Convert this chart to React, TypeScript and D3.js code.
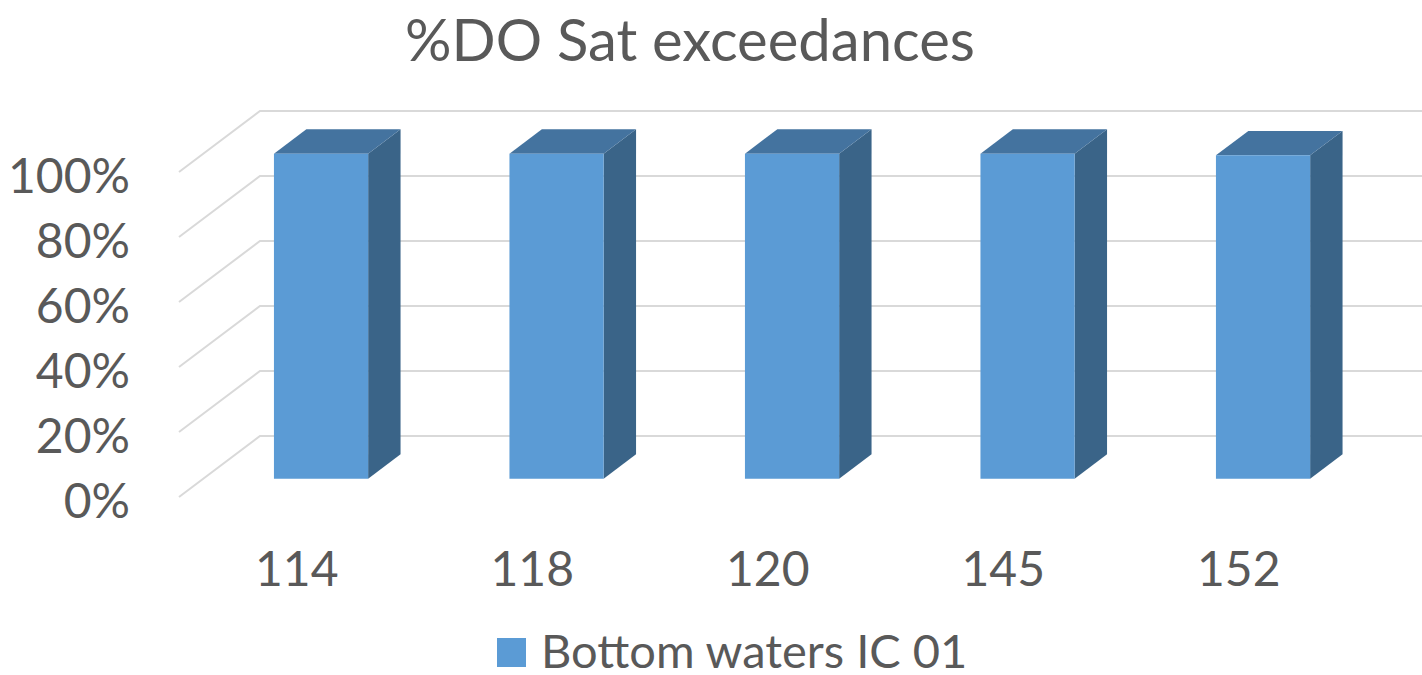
import React, { useEffect, useRef } from 'react';
import * as d3 from 'd3';

const categories = ['114', '118', '120', '145', '152'];
const values = [1, 1, 1, 1, 0.995];
const yTicks = [0, 0.2, 0.4, 0.6, 0.8, 1];
const title = '%DO Sat exceedances';
const seriesName = 'Bottom waters IC 01';

const W = 1422;
const H = 675;
const FONT = 'Lato, "Open Sans", sans-serif';
const TEXT = '#595959';

const App: React.FC = () => {
  const svgRef = useRef<SVGSVGElement>(null);

  useEffect(() => {
    if (!svgRef.current) return;
    const svg = d3.select(svgRef.current);
    svg.selectAll('*').remove();

    // floor: front-left corner and depth vector
    const x0 = 179;
    const y0 = 497;
    const depthX = 81;
    const depthY = -61;
    const floorWidth = 1177.5;
    const wallHeight = 325;

    const xScale = d3.scaleBand<string>().domain(categories).range([0, floorWidth]);
    const yScale = d3.scaleLinear().domain([0, 1]).range([0, wallHeight]);

    // projected point: x along floor, d depth fraction, v value
    const pt = (x: number, d: number, v: number): [number, number] => [
      x0 + x + d * depthX,
      y0 + d * depthY - yScale(v),
    ];

    // gridlines (side wall + back wall)
    const grid = svg.append('g');
    yTicks.forEach((t) => {
      const line = d3.line()([pt(0, 0, t), pt(0, 1, t), pt(floorWidth, 1, t)]);
      grid.append('path')
        .attr('d', line)
        .attr('fill', 'none')
        .attr('stroke', '#d9d9d9')
        .attr('stroke-width', 2);
    });

    // y labels
    svg.append('g').selectAll('text')
      .data(yTicks)
      .enter()
      .append('text')
      .attr('x', 130)
      .attr('y', (t) => pt(0, 0, t)[1] + 2)
      .attr('text-anchor', 'end')
      .attr('dominant-baseline', 'central')
      .attr('font-family', FONT)
      .attr('font-size', 48)
      .attr('fill', TEXT)
      .text((t) => d3.format('.0%')(t));

    // bars
    const barFrac = 0.4;
    const dFront = 0.3;
    const dBack = 0.7;
    const bars = svg.append('g');
    categories.forEach((c, i) => {
      const step = xScale.bandwidth();
      const bw = step * barFrac;
      const xl = (xScale(c) || 0) + (step - bw) / 2;
      const xr = xl + bw;
      const v = values[i];
      const poly = (pts: [number, number][]) => d3.line()(pts.concat([pts[0]])) || '';

      // side face
      bars.append('path')
        .attr('d', poly([pt(xr, dFront, 0), pt(xr, dBack, 0), pt(xr, dBack, v), pt(xr, dFront, v)]))
        .attr('fill', '#3a6488');
      // top face
      bars.append('path')
        .attr('d', poly([pt(xl, dFront, v), pt(xr, dFront, v), pt(xr, dBack, v), pt(xl, dBack, v)]))
        .attr('fill', '#44739f');
      // front face
      bars.append('path')
        .attr('d', poly([pt(xl, dFront, 0), pt(xr, dFront, 0), pt(xr, dFront, v), pt(xl, dFront, v)]))
        .attr('fill', '#5b9bd5');
    });

    // x labels
    svg.append('g').selectAll('text')
      .data(categories)
      .enter()
      .append('text')
      .attr('x', (c) => x0 + (xScale(c) || 0) + xScale.bandwidth() / 2)
      .attr('y', 567)
      .attr('text-anchor', 'middle')
      .attr('dominant-baseline', 'central')
      .attr('font-family', FONT)
      .attr('font-size', 48)
      .attr('fill', TEXT)
      .text((c) => c);

    // title
    svg.append('text')
      .attr('x', 690)
      .attr('y', 38)
      .attr('text-anchor', 'middle')
      .attr('dominant-baseline', 'central')
      .attr('font-family', FONT)
      .attr('font-size', 58)
      .attr('fill', TEXT)
      .text(title);

    // legend
    const legend = svg.append('g');
    legend.append('rect')
      .attr('x', 497)
      .attr('y', 638)
      .attr('width', 29)
      .attr('height', 29)
      .attr('fill', '#5b9bd5');
    legend.append('text')
      .attr('x', 541)
      .attr('y', 650)
      .attr('dominant-baseline', 'central')
      .attr('font-family', FONT)
      .attr('font-size', 47)
      .attr('fill', TEXT)
      .text(seriesName);
  }, []);

  return (
    <svg
      ref={svgRef}
      width={W}
      height={H}
      style={{ position: 'absolute', left: 0, top: 0, background: '#fff' }}
    />
  );
};

export default App;
